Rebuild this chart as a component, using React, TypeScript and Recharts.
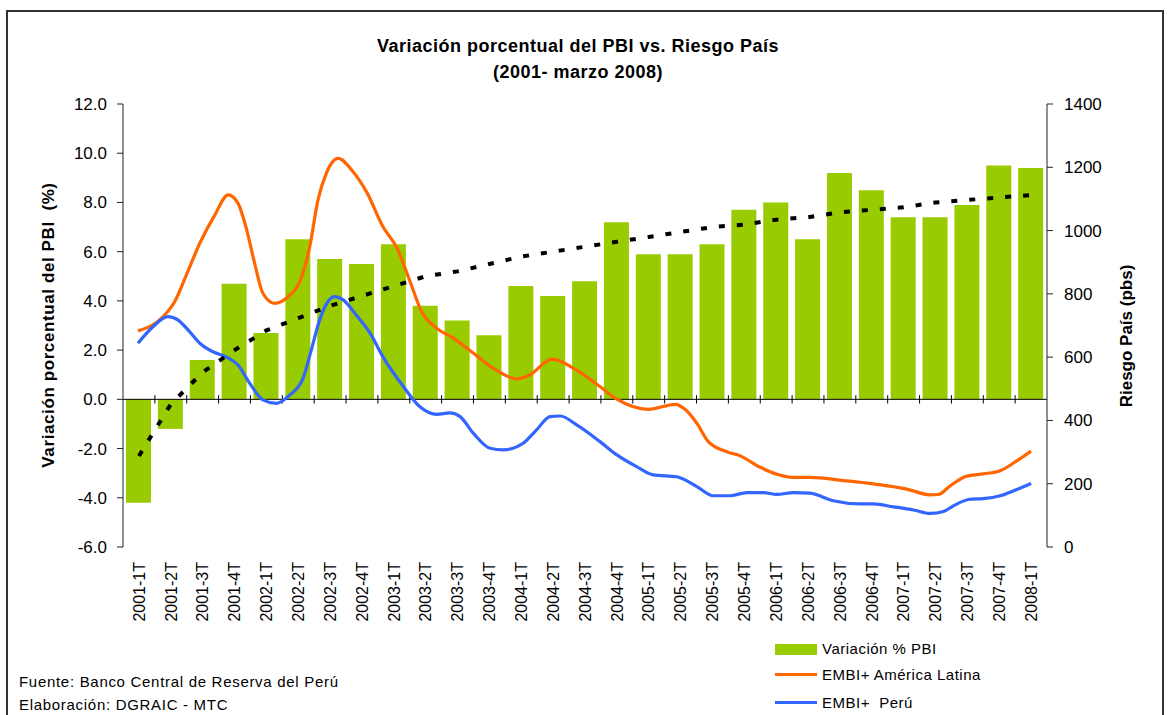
import { ComposedChart, Bar, Line, XAxis, YAxis, ReferenceLine } from "recharts";

// Trimestres (eje de categorías)
const trimestres = [
  "2001-1T", "2001-2T", "2001-3T", "2001-4T",
  "2002-1T", "2002-2T", "2002-3T", "2002-4T",
  "2003-1T", "2003-2T", "2003-3T", "2003-4T",
  "2004-1T", "2004-2T", "2004-3T", "2004-4T",
  "2005-1T", "2005-2T", "2005-3T", "2005-4T",
  "2006-1T", "2006-2T", "2006-3T", "2006-4T",
  "2007-1T", "2007-2T", "2007-3T", "2007-4T",
  "2008-1T",
];

// Variación % del PBI (eje izquierdo)
const variacionPBI = [
  -4.2, -1.2, 1.6, 4.7, 2.7, 6.5, 5.7, 5.5, 6.3, 3.8, 3.2, 2.6, 4.6, 4.2, 4.8,
  7.2, 5.9, 5.9, 6.3, 7.7, 8.0, 6.5, 9.2, 8.5, 7.4, 7.4, 7.9, 9.5, 9.4,
];

// Línea de tendencia punteada (eje izquierdo)
const tendencia = [
  -2.3, -0.2, 1.1, 2.0, 2.8, 3.3, 3.8, 4.2, 4.6, 5.0, 5.2, 5.5, 5.8, 6.0, 6.2,
  6.4, 6.6, 6.8, 7.0, 7.1, 7.3, 7.4, 7.6, 7.7, 7.8, 8.0, 8.1, 8.2, 8.3,
];

// EMBI+ América Latina (pbs): posición en trimestres (0.5 = centro de 2001-1T)
const posLatam = [
  0.47, 1.26, 1.62, 1.99, 2.41, 2.88, 3.3, 3.61, 3.87, 4.13, 4.39, 4.76, 5.18,
  5.55, 5.86, 6.12, 6.38, 6.75, 7.22, 7.64, 8.16, 8.6, 9.01, 9.37, 9.85, 10.37,
  11.0, 11.62, 12.36, 12.77, 13.46, 14.24, 14.97, 15.5, 16.49, 17.33, 17.64,
  18.01, 18.37, 18.95, 19.37, 20.0, 20.52, 21.04, 21.56, 22.61, 23.66, 24.6,
  25.33, 25.59, 25.96, 26.48, 27.0, 27.53, 28.05, 28.5,
];
const embiLatam = [
  683, 728, 775, 860, 960, 1049, 1113, 1086, 1007, 897, 802, 770, 791, 839,
  949, 1097, 1181, 1228, 1186, 1123, 1012, 945, 839, 744, 691, 660, 612, 565,
  531, 544, 594, 559, 507, 467, 435, 451, 435, 391, 333, 301, 288, 252, 230,
  220, 220, 210, 198, 183, 165, 166, 193, 224, 231, 241, 272, 303,
];

// EMBI+ Perú (pbs)
const posPeru = [
  0.47, 0.94, 1.41, 1.73, 2.04, 2.41, 2.82, 3.24, 3.61, 3.98, 4.39, 4.81, 5.23,
  5.65, 5.91, 6.17, 6.43, 6.64, 6.91, 7.32, 7.74, 8.16, 8.8, 9.32, 9.85, 10.26,
  10.58, 11.0, 11.52, 11.94, 12.56, 12.98, 13.4, 13.72, 14.24, 14.97, 15.5,
  16.12, 16.64, 17.38, 18.01, 18.53, 19.05, 19.58, 20.1, 20.52, 21.04, 21.56,
  22.29, 23.13, 23.55, 24.18, 24.81, 25.33, 25.75, 26.06, 26.58, 27.0, 27.53,
  28.05, 28.5,
];
const embiPeru = [
  644, 696, 728, 717, 686, 644, 617, 601, 575, 517, 465, 454, 480, 533, 623,
  717, 775, 791, 781, 733, 678, 601, 507, 443, 419, 424, 412, 359, 312, 307,
  328, 370, 412, 414, 386, 333, 291, 254, 228, 222, 191, 162, 162, 172, 172,
  166, 172, 170, 146, 136, 136, 127, 117, 106, 112, 130, 151, 153, 162, 182,
  201,
];

const ticksIzq = [-6, -4, -2, 0, 2, 4, 6, 8, 10, 12];
const ticksDer = [0, 200, 400, 600, 800, 1000, 1200, 1400];

const GREEN = "#99CC00";
const ORANGE = "#FF6600";
const BLUE = "#3366FF";
const FONT = "'Liberation Sans', Arial, Helvetica, sans-serif";

const data = trimestres.map((t, i) => ({
  trimestre: t,
  pbi: variacionPBI[i],
  tendencia: tendencia[i],
}));
const latamData = posLatam.map((u, i) => ({ u, v: embiLatam[i] }));
const peruData = posPeru.map((u, i) => ({ u, v: embiPeru[i] }));
// límites entre trimestres, para las marcas sobre la línea del cero
const limites = trimestres.map((_, i) => i + 1).slice(0, -1);

const XTick = ({ x, y, payload }: any) => (
  <text
    x={x}
    y={y}
    transform={`rotate(-90, ${x}, ${y})`}
    textAnchor="end"
    dy="0.36em"
    fontSize={16}
    fill="#000"
    fontFamily={FONT}
  >
    {payload.value}
  </text>
);

export default function App() {
  return (
    <div
      style={{
        position: "absolute",
        left: 0,
        top: 0,
        width: 1168,
        height: 715,
        background: "#fff",
        fontFamily: FONT,
        overflow: "hidden",
      }}
    >
      {/* marco */}
      <div
        style={{
          position: "absolute",
          left: 6,
          top: 10,
          width: 1158,
          height: 720,
          border: "2px solid #333",
          boxSizing: "border-box",
        }}
      />

      <div
        style={{
          position: "absolute",
          left: 0,
          width: 1156,
          top: 33,
          textAlign: "center",
          fontWeight: "bold",
          fontSize: 18,
          letterSpacing: 0.5,
          lineHeight: "26px",
          color: "#000",
        }}
      >
        Variación porcentual del PBI vs. Riesgo País
        <br />
        (2001- marzo 2008)
      </div>

      <ComposedChart
        width={1168}
        height={715}
        data={data}
        margin={{ top: 104, right: 0, bottom: 0, left: 0 }}
        style={{ position: "absolute", left: 0, top: 0 }}
      >
        <XAxis
          xAxisId="cat"
          dataKey="trimestre"
          height={168}
          interval={0}
          axisLine={false}
          tickLine={false}
          tickSize={0}
          tickMargin={15}
          tick={<XTick />}
        />
        <XAxis
          xAxisId="num"
          type="number"
          dataKey="u"
          domain={[0, 29]}
          allowDataOverflow
          hide
        />
        <YAxis
          yAxisId="left"
          width={123}
          domain={[-6, 12]}
          ticks={ticksIzq}
          interval={0}
          tickFormatter={(v: number) => v.toFixed(1)}
          axisLine={{ stroke: "#222" }}
          tickLine={{ stroke: "#222" }}
          tickSize={6}
          tickMargin={10}
          tick={{ fill: "#000", fontSize: 17, fontFamily: FONT }}
        />
        <YAxis
          yAxisId="right"
          orientation="right"
          width={121}
          domain={[0, 1400]}
          ticks={ticksDer}
          interval={0}
          axisLine={{ stroke: "#222" }}
          tickLine={{ stroke: "#222" }}
          tickSize={6}
          tickMargin={11}
          tick={{ fill: "#000", fontSize: 17, fontFamily: FONT, textAnchor: "start" }}
        />

        <Bar
          xAxisId="cat"
          yAxisId="left"
          dataKey="pbi"
          fill={GREEN}
          barSize={25}
          isAnimationActive={false}
        />

        <ReferenceLine xAxisId="cat" yAxisId="left" y={0} stroke="#000" strokeWidth={1} />
        {limites.map((k) => (
          <ReferenceLine
            key={k}
            xAxisId="num"
            yAxisId="left"
            segment={[
              { x: k, y: -0.17 },
              { x: k, y: 0.17 },
            ]}
            stroke="#000"
            strokeWidth={1}
          />
        ))}

        <Line
          xAxisId="num"
          yAxisId="right"
          data={latamData}
          dataKey="v"
          type="monotone"
          stroke={ORANGE}
          strokeWidth={3.2}
          dot={false}
          activeDot={false}
          isAnimationActive={false}
        />
        <Line
          xAxisId="num"
          yAxisId="right"
          data={peruData}
          dataKey="v"
          type="monotone"
          stroke={BLUE}
          strokeWidth={3.2}
          dot={false}
          activeDot={false}
          isAnimationActive={false}
        />
        <Line
          xAxisId="cat"
          yAxisId="left"
          dataKey="tendencia"
          type="linear"
          stroke="#000"
          strokeWidth={4}
          strokeDasharray="6 12"
          dot={false}
          activeDot={false}
          isAnimationActive={false}
        />
      </ComposedChart>

      {/* títulos de los ejes */}
      <div
        style={{
          position: "absolute",
          left: 49,
          top: 325,
          transform: "translate(-50%, -50%) rotate(-90deg)",
          whiteSpace: "pre",
          fontWeight: "bold",
          fontSize: 17,
          letterSpacing: 0.6,
          color: "#000",
        }}
      >
        {"Variación porcentual del PBI  (%)"}
      </div>
      <div
        style={{
          position: "absolute",
          left: 1127,
          top: 336,
          transform: "translate(-50%, -50%) rotate(-90deg)",
          whiteSpace: "pre",
          fontWeight: "bold",
          fontSize: 17,
          color: "#000",
        }}
      >
        Riesgo País (pbs)
      </div>

      {/* leyenda */}
      <div style={{ position: "absolute", left: 775, top: 644, width: 42, height: 11, background: GREEN }} />
      <div style={{ position: "absolute", left: 775, top: 673, width: 42, height: 3, background: ORANGE }} />
      <div style={{ position: "absolute", left: 775, top: 701, width: 42, height: 3, background: BLUE }} />
      {[
        { t: "Variación % PBI", y: 649 },
        { t: "EMBI+ América Latina", y: 675 },
        { t: "EMBI+  Perú", y: 703 },
      ].map((l) => (
        <div
          key={l.t}
          style={{
            position: "absolute",
            left: 822,
            top: l.y - 10,
            lineHeight: "20px",
            fontSize: 15,
            letterSpacing: 0.5,
            whiteSpace: "pre",
            color: "#000",
          }}
        >
          {l.t}
        </div>
      ))}

      {/* fuente */}
      <div
        style={{
          position: "absolute",
          left: 19,
          top: 670,
          fontSize: 15,
          letterSpacing: 0.7,
          lineHeight: "23px",
          color: "#000",
          whiteSpace: "pre",
        }}
      >
        Fuente: Banco Central de Reserva del Perú
        <br />
        Elaboración: DGRAIC - MTC
      </div>
    </div>
  );
}
